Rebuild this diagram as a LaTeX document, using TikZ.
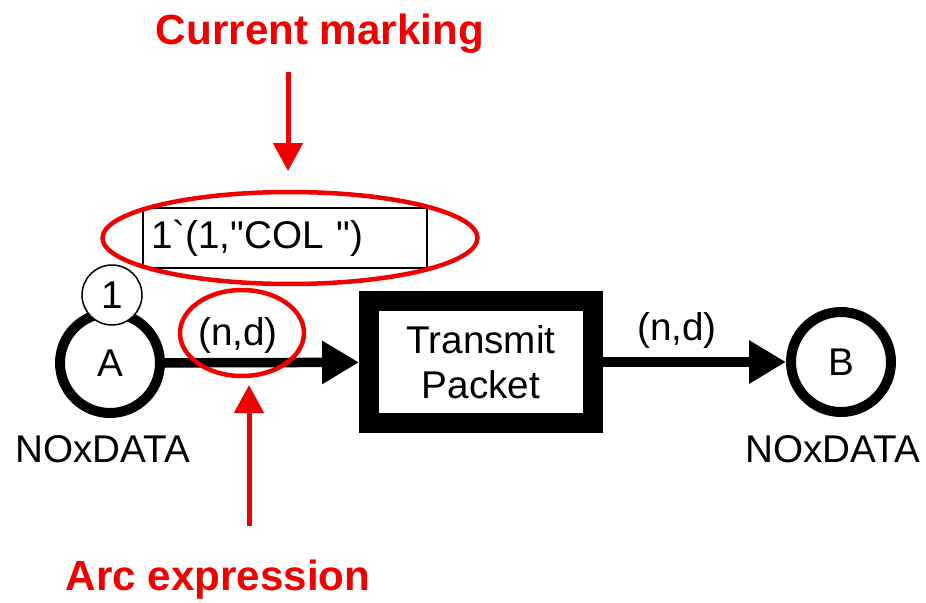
\documentclass[tikz,border=0pt]{standalone}
\usepackage{fontspec}
\setmainfont{Liberation Sans}
\usepackage{xcolor}
\usetikzlibrary{shapes,arrows.meta,positioning,calc}

\definecolor{annred}{RGB}{240,0,0}

\begin{document}
\begin{tikzpicture}[
    x=0.02cm, y=-0.02cm,
    pl/.style={circle, draw=black, fill=white, line width=0.2cm, minimum size=2.0cm, inner sep=0pt, font=\fontsize{22}{26}\selectfont},
    tr/.style={rectangle, draw=black, fill=white, line width=0.4cm, minimum width=4.48cm, minimum height=2.46cm, align=center, font=\fontsize{22}{25.5}\selectfont},
    tok/.style={circle, draw=black, fill=white, line width=0.03cm, minimum size=1.2cm, inner sep=0pt, font=\fontsize{22}{26}\selectfont},
    mk/.style={rectangle, draw=black, line width=0.04cm, minimum height=1.2cm, text width=5.36cm, inner xsep=0.16cm, align=left, font=\fontsize{22}{26}\selectfont},
    lbl/.style={inner sep=0pt, font=\fontsize{22}{26}\selectfont},
    note/.style={inner sep=0pt, text=annred, font=\fontsize{24}{28}\selectfont\bfseries},
    ann/.style={ellipse, draw=annred, line width=0.09cm, inner sep=0pt},
    arc/.style={-{Triangle[length=0.74cm, width=0.82cm]}, line width=0.19cm, draw=black},
    rarr/.style={-{Triangle[length=0.56cm, width=0.58cm]}, line width=0.1cm, draw=annred}
]
    \useasboundingbox (0,0) rectangle (926,602);

    % places, transition, marking
    \node [pl] (A) at (110,363) {A};
    \node [pl] (B) at (841,362) {B};
    \node [tr] (T) at (481,362) {Transmit\\Packet};
    \node [tok] (tok1) at (112,295) {1};
    \node [mk] (mark) at (285,238) {1\textasciigrave(1,\textquotedbl COL\ \textquotedbl)};

    \node [lbl, anchor=base] (tyA) at (103,462) {NOxDATA};
    \node [lbl, anchor=base] (tyB) at (833,462) {NOxDATA};

    \draw [arc] (A) -- (T);
    \draw [arc] (T) -- (B);
    \node [lbl, anchor=base] (exA) at (238,345) {(n,d)};
    \node [lbl, anchor=base] (exB) at (677,340) {(n,d)};

    % annotations
    \node [ann, minimum width=7.5cm, minimum height=1.84cm] (markring) at (290,238) {};
    \node [ann, minimum width=2.48cm, minimum height=1.72cm] (exring) at (242,333) {};
    \node [note, anchor=base] (cm) at (320,44) {Current marking};
    \node [note, anchor=base] (ae) at (218,590) {Arc expression};
    \coordinate (cmfrom) at (288,72);
    \coordinate (cmto) at (288,171);
    \coordinate (aefrom) at (249,526);
    \coordinate (aeto) at (249,385);
    \draw [rarr] (cmfrom) -- (cmto);
    \draw [rarr] (aefrom) -- (aeto);
\end{tikzpicture}
\end{document}
